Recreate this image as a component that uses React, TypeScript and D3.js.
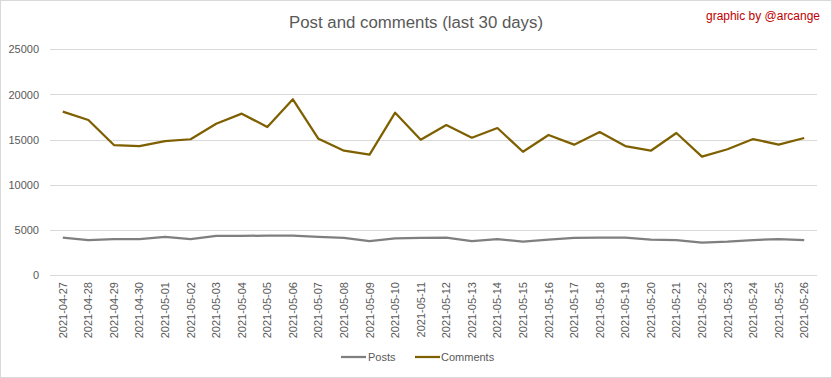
import React from "react";
import * as d3 from "d3";

const dates = [
  "2021-04-27","2021-04-28","2021-04-29","2021-04-30","2021-05-01","2021-05-02","2021-05-03","2021-05-04","2021-05-05","2021-05-06",
  "2021-05-07","2021-05-08","2021-05-09","2021-05-10","2021-05-11","2021-05-12","2021-05-13","2021-05-14","2021-05-15","2021-05-16",
  "2021-05-17","2021-05-18","2021-05-19","2021-05-20","2021-05-21","2021-05-22","2021-05-23","2021-05-24","2021-05-25","2021-05-26",
];
const posts = [
  4160, 3900, 4010, 4010, 4240, 4010, 4350, 4350, 4400, 4400,
  4240, 4130, 3790, 4090, 4130, 4160, 3790, 4010, 3720, 3940,
  4130, 4160, 4160, 3940, 3900, 3610, 3720, 3900, 4010, 3900,
];
const comments = [
  18100, 17180, 14410, 14300, 14850, 15050, 16770, 17880, 16400, 19470,
  15100, 13780, 13340, 17990, 15000, 16620, 15220, 16290, 13670, 15520,
  14450, 15850, 14300, 13780, 15740, 13120, 13940, 15070, 14450, 15190,
];
const yTicks = [0, 5000, 10000, 15000, 20000, 25000];
const seriesNames = ["Posts", "Comments"];
const colors = ["#7F7F7F", "#7F6000"];
const title = "Post and comments (last 30 days)";
const credit = "graphic by @arcange";

export default function App() {
  const W = 832, H = 378;
  const x = d3.scaleBand<string>().domain(dates).range([50, 817]);
  const y = d3.scaleLinear().domain([0, 25000]).range([275.3, 49.3]);
  const cx = (d: string) => (x(d) as number) + x.bandwidth() / 2;
  const line = d3.line<number>().x((_, i) => cx(dates[i])).y((v) => y(v));
  const font = "'Liberation Sans', Arial, sans-serif";
  const series = [posts, comments];
  const legendItems = [
    { name: seriesNames[0], lx: 341, tx: 368 },
    { name: seriesNames[1], lx: 415, tx: 441 },
  ];
  return (
    <svg width={W} height={H} style={{ position: "absolute", left: 0, top: 0 }} fontFamily={font}>
      <rect x={0.5} y={0.5} width={W - 1} height={H - 1} fill="#fff" stroke="#D9D9D9" />
      <text x={416} y={28} textAnchor="middle" fontSize={16} fill="#595959" textLength={254} lengthAdjust="spacingAndGlyphs">{title}</text>
      <text x={820} y={20} textAnchor="end" fontSize={12} fill="#C00000" textLength={114} lengthAdjust="spacingAndGlyphs">{credit}</text>
      {yTicks.map((t) => (
        <g key={t}>
          <line x1={50} x2={817} y1={Math.round(y(t)) + 0.5} y2={Math.round(y(t)) + 0.5} stroke="#D9D9D9" strokeWidth={1} />
          <text x={39} y={y(t) + 4} textAnchor="end" fontSize={11} fill="#595959">{t}</text>
        </g>
      ))}
      {dates.map((d) => (
        <text key={d} transform={`translate(${cx(d) + 4},${282}) rotate(-90)`} textAnchor="end" fontSize={11} fill="#595959">{d}</text>
      ))}
      {series.map((s, i) => (
        <path key={i} d={line(s) as string} fill="none" stroke={colors[i]} strokeWidth={2.25} strokeLinejoin="round" />
      ))}
      {legendItems.map((l, i) => (
        <g key={l.name}>
          <line x1={l.lx} x2={l.lx + 25} y1={357} y2={357} stroke={colors[i]} strokeWidth={2.25} />
          <text x={l.tx} y={361} fontSize={11} fill="#595959">{l.name}</text>
        </g>
      ))}
    </svg>
  );
}
